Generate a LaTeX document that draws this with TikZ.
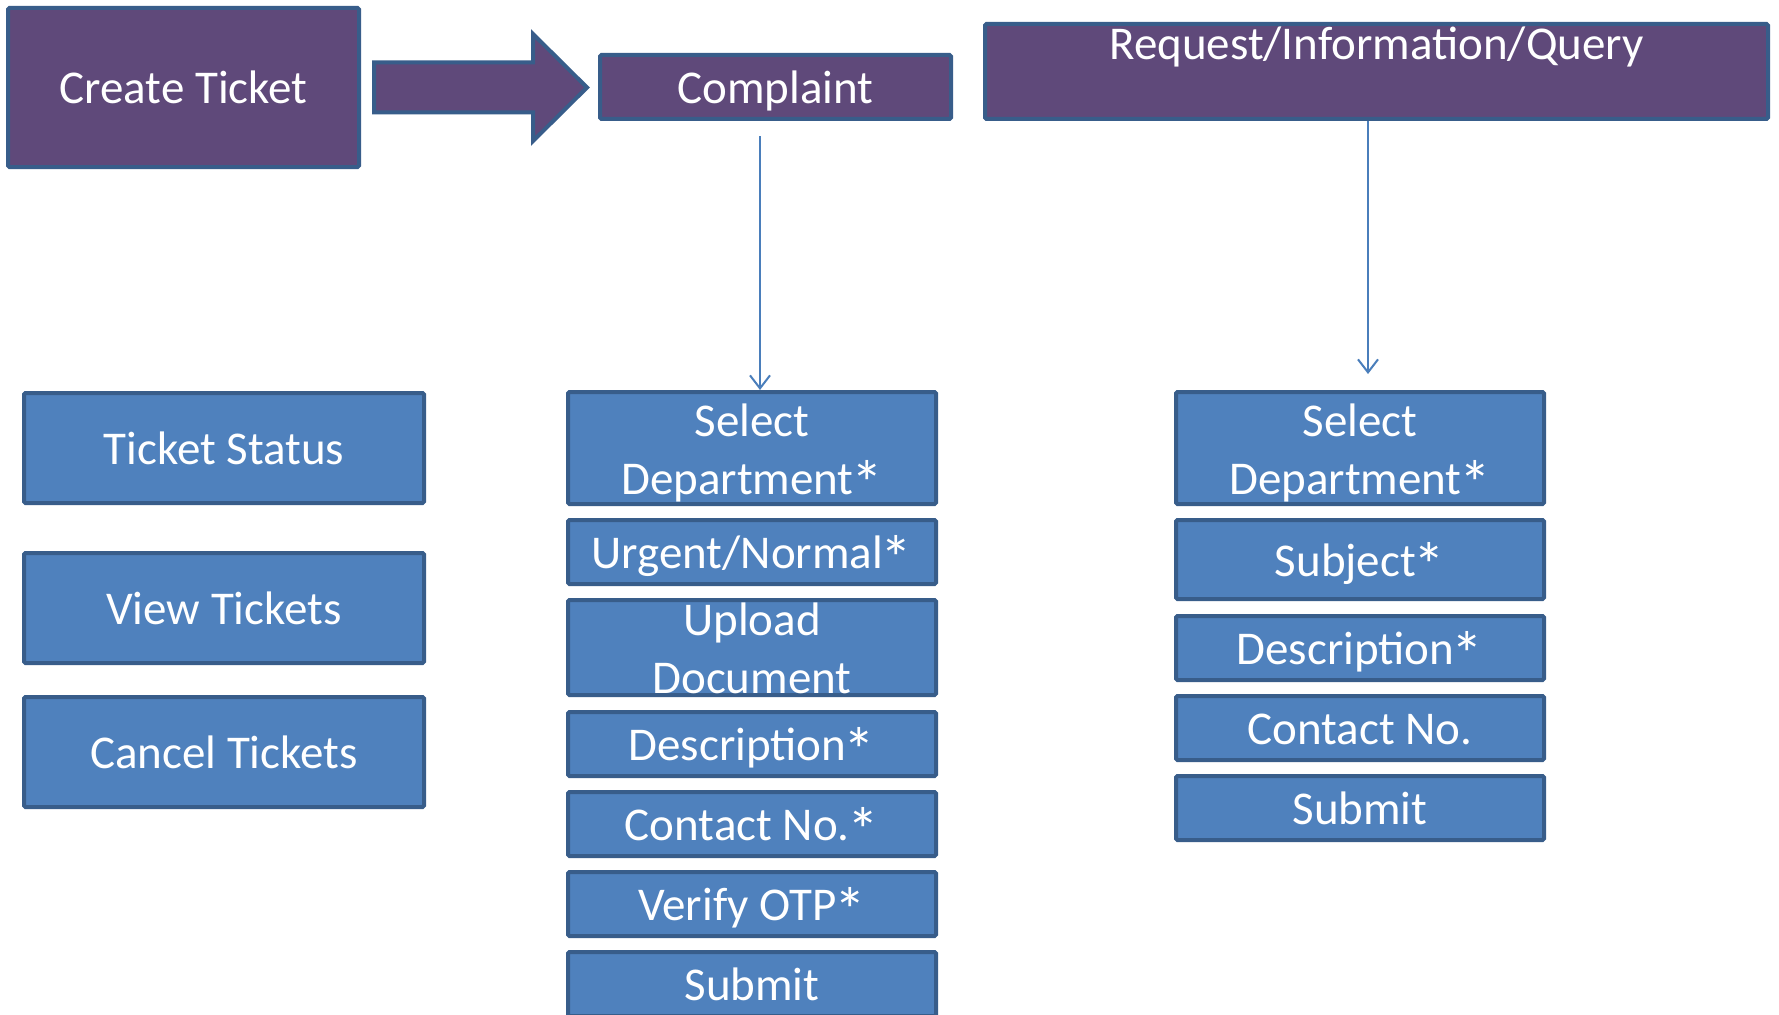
\documentclass[tikz,border=0pt]{standalone}
\usepackage{fontspec}
\usepackage{graphicx}
\setmainfont{Carlito}
\usetikzlibrary{arrows.meta,calc}
\definecolor{purp}{HTML}{5F497A}
\definecolor{bord}{HTML}{385D8A}
\definecolor{bfill}{HTML}{4F81BD}
\definecolor{lnk}{HTML}{4A7EBB}
\newcommand{\twol}[2]{\begin{tabular}[t]{@{}c@{}}#1\\#2\end{tabular}}
\newcommand{\reqmark}{\kern-0.05em\raisebox{-0.25em}{\scalebox{1.35}{*}}}
\begin{document}
\begin{tikzpicture}[x=1pt,y=-1pt,
  base/.style={draw=bord, line width=4pt, rounded corners=1.5pt, text=white, inner sep=0pt,
    font=\fontsize{47pt}{58pt}\selectfont, text height=33pt, text depth=0pt},
  pbox/.style={base, fill=purp},
  bbox/.style={base, fill=bfill},
  twoline/.style={text depth=57pt},
  link/.style={draw=lnk, line width=2pt, -{Straight Barb[length=13pt,width=20pt]}}
]
\useasboundingbox (0,0) rectangle (1779,1014);
\fill[white] (0,0) rectangle (1779,1014);
\clip (0,0) rectangle (1779,1014);

% top row
\node[pbox, minimum width=351pt, minimum height=159pt] (ct) at (183.5,87.5) {Create Ticket};
\node[pbox, minimum width=351pt, minimum height=64pt] (cp) at (775.5,87) {Complaint};
\node[pbox, minimum width=783pt, minimum height=95pt, twoline] (rq) at (1376.5,71.5) {Request/Information/Query};

% block arrow
\draw[draw=bord, fill=purp, line width=4pt, line join=miter]
  (374,62.5) -- (533,62.5) -- (533,34) -- (587,87.5) -- (533,141) -- (533,112.5) -- (374,112.5) -- cycle;

% left column
\node[bbox, minimum width=400pt, minimum height=110pt] (ts) at (224,448) {Ticket Status};
\node[bbox, minimum width=400pt, minimum height=110pt] (vt) at (224,608) {View Tickets};
\node[bbox, minimum width=400pt, minimum height=110pt] (cn) at (224,752) {Cancel Tickets};

% middle column
\node[bbox, minimum width=368pt, minimum height=112pt, twoline] (c1) at (752,448) {\twol{Select}{Department\reqmark}};
\node[bbox, minimum width=368pt, minimum height=64pt] (c2) at (752,552) {Urgent/Normal\reqmark};
\node[bbox, minimum width=368pt, minimum height=95pt, twoline] (c3) at (752,647.5) {\twol{Upload}{Document}};
\node[bbox, minimum width=368pt, minimum height=64pt] (c4) at (752,744) {Description\reqmark};
\node[bbox, minimum width=368pt, minimum height=64pt] (c5) at (752,824) {Contact No.\reqmark};
\node[bbox, minimum width=368pt, minimum height=64pt] (c6) at (752,904) {Verify OTP\reqmark};
\node[bbox, minimum width=368pt, minimum height=64pt] (c7) at (752,984) {Submit};

% right column
\node[bbox, minimum width=368pt, minimum height=112pt, twoline] (r1) at (1360,448) {\twol{Select}{Department\reqmark}};
\node[bbox, minimum width=368pt, minimum height=79pt] (r2) at (1360,559.5) {Subject\reqmark};
\node[bbox, minimum width=368pt, minimum height=64pt] (r3) at (1360,648) {Description\reqmark};
\node[bbox, minimum width=368pt, minimum height=64pt] (r4) at (1360,728) {Contact No.};
\node[bbox, minimum width=368pt, minimum height=64pt] (r5) at (1360,808) {Submit};

% connectors
\coordinate (cstart) at (760,136);
\draw[link] (cstart) -- (cstart |- c1.north);
\coordinate (rqend) at (1368,374);
\draw[link] (rq.south -| rqend) -- (rqend);
\end{tikzpicture}
\end{document}
